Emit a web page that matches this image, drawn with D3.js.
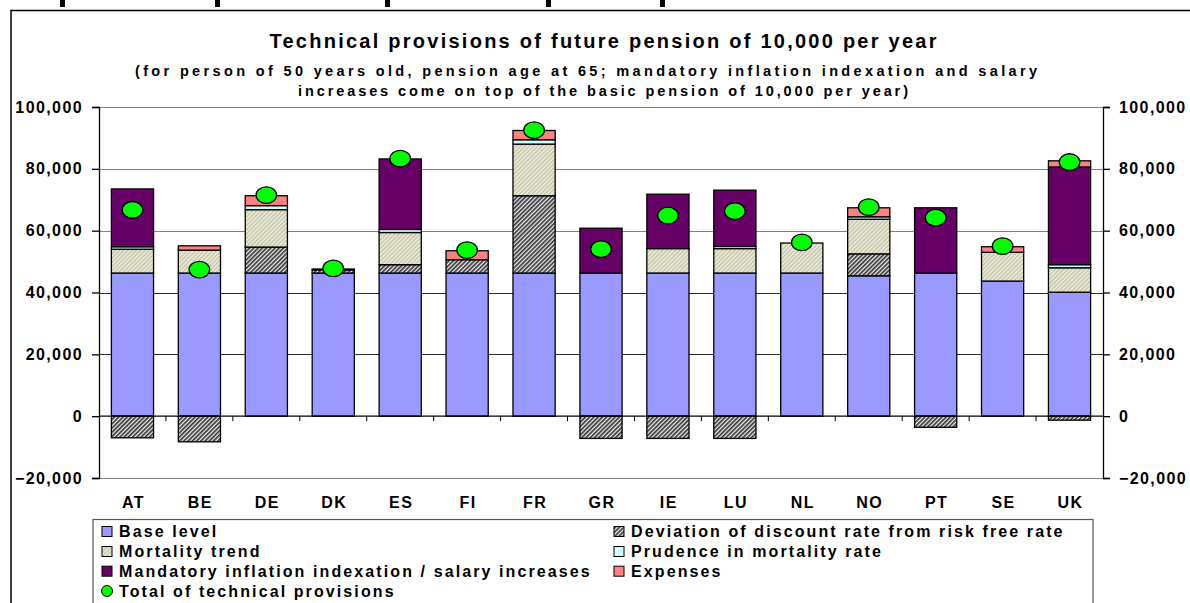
<!DOCTYPE html>
<html>
<head>
<meta charset="utf-8">
<script src="https://cdn.jsdelivr.net/npm/d3@7"></script>
<style>
  body { margin: 0; background: #fff; }
  svg { display: block; font-family: "Liberation Sans", Arial, sans-serif; font-weight: bold; }
</style>
</head>
<body>
<svg id="chart" width="1190" height="603"></svg>
<script>
// Chart data
var countries = ["AT", "BE", "DE", "DK", "ES", "FI", "FR", "GR", "IE", "LU", "NL", "NO", "PT", "SE", "UK"];
var baseLevel  = [46300, 46300, 46300, 46300, 46300, 46300, 46300, 46300, 46300, 46300, 46300, 45400, 46300, 43700, 40100];
var deviation  = [-7000, -8300, 8400, 1000, 2700, 4300, 25000, -7200, -7200, -7200, 0, 7100, -3600, 0, -1300];
var mortality  = [7700, 7400, 12100, 0, 10400, 0, 16700, 0, 7900, 7900, 9700, 11200, 0, 9300, 7900];
var prudence   = [800, 0, 1300, 0, 1000, 0, 1400, 0, 0, 700, 0, 800, 0, 0, 1000];
var mandatory  = [18700, 0, 0, 300, 22800, 0, 0, 14500, 17600, 18200, 0, 0, 21100, 0, 31600];
var expenses   = [0, 1400, 3200, 0, 0, 2900, 3000, 0, 0, 0, 0, 2900, 0, 1800, 2000];
var totalTP    = [66700, 47400, 71500, 47800, 83300, 53700, 92500, 54000, 64900, 66300, 56200, 67600, 64200, 55000, 82200];
var yTicks = [-20000, 0, 20000, 40000, 60000, 80000, 100000];

var seriesKeys = ["base", "deviation", "mortality", "prudence", "mandatory", "expenses"];
var seriesNames = {
    base: "Base level",
    deviation: "Deviation of discount rate from risk free rate",
    mortality: "Mortality trend",
    prudence: "Prudence in mortality rate",
    mandatory: "Mandatory inflation indexation / salary increases",
    expenses: "Expenses"
};
var seriesFill = {
    base: "#9999FF",
    deviation: "url(#hatchDark)",
    mortality: "url(#hatchLight)",
    prudence: "#CCFFFF",
    mandatory: "#660066",
    expenses: "#FF8080"
};

// Build rows for d3.stack
var rows = countries.map(function(c, i) {
    return {
        country: c,
        base: baseLevel[i],
        deviation: deviation[i],
        mortality: mortality[i],
        prudence: prudence[i],
        mandatory: mandatory[i],
        expenses: expenses[i],
        total: totalTP[i]
    };
});

var svg = d3.select("#chart");

// Patterns for hatched series
var defs = svg.append("defs");
var pDark = defs.append("pattern").attr("id", "hatchDark")
    .attr("patternUnits", "userSpaceOnUse").attr("width", 3).attr("height", 3)
    .attr("patternTransform", "rotate(45)");
pDark.append("rect").attr("width", 3).attr("height", 3).attr("fill", "#eeeeee");
pDark.append("rect").attr("width", 1.7).attr("height", 3).attr("fill", "#383838");

var pLight = defs.append("pattern").attr("id", "hatchLight")
    .attr("patternUnits", "userSpaceOnUse").attr("width", 3).attr("height", 3)
    .attr("patternTransform", "rotate(45)");
pLight.append("rect").attr("width", 3).attr("height", 3).attr("fill", "#EAEAD8");
pLight.append("rect").attr("width", 1.2).attr("height", 3).attr("fill", "#C0C0A4");

// Cropped heading from the slide above (only the descenders show)
svg.append("g").selectAll("rect")
    .data([60, 215, 385, 546, 660])
    .enter().append("rect")
    .attr("x", d => d).attr("y", 0)
    .attr("width", 5).attr("height", 7)
    .attr("fill", "#000");

// Outer chart frame
svg.append("path")
    .attr("d", "M11,603 L11,10.5 L1190,10.5")
    .attr("fill", "none").attr("stroke", "#000").attr("stroke-width", 1.5);

// Titles
svg.append("text").attr("x", 603).attr("y", 47.5).attr("text-anchor", "middle")
    .attr("font-size", 20).attr("textLength", 667).attr("lengthAdjust", "spacing")
    .text("Technical provisions of future pension of 10,000 per year");
svg.append("text").attr("x", 586).attr("y", 76).attr("text-anchor", "middle")
    .attr("font-size", 14.5).attr("textLength", 902).attr("lengthAdjust", "spacing")
    .text("(for person of 50 years old, pension age at 65; mandatory inflation indexation and salary");
svg.append("text").attr("x", 603).attr("y", 96).attr("text-anchor", "middle")
    .attr("font-size", 14.5).attr("textLength", 610).attr("lengthAdjust", "spacing")
    .text("increases come on top of the basic pension of 10,000 per year)");

// Scales
var x = d3.scaleBand().domain(countries).range([99, 1103]).paddingInner(0.37).paddingOuter(0.185);
var y = d3.scaleLinear().domain([-20000, 100000]).range([478, 107]);

// Gridlines (lower ones come out darker in the original)
svg.append("g").selectAll("line")
    .data(yTicks.filter(t => t !== 0))
    .enter().append("line")
    .attr("x1", 99).attr("x2", 1103)
    .attr("y1", d => Math.round(y(d)) + 0.5).attr("y2", d => Math.round(y(d)) + 0.5)
    .attr("stroke", d => (d === 20000 || d === 40000) ? "#2a2a2a" : "#808080")
    .attr("stroke-width", 1);

// Stacked bars
var stack = d3.stack().keys(seriesKeys).offset(d3.stackOffsetDiverging);
var layers = stack(rows);

svg.append("g").selectAll("g")
    .data(layers)
    .enter().append("g")
    .attr("fill", d => seriesFill[d.key])
    .selectAll("rect")
    .data(d => d.filter(s => s[1] !== s[0]))
    .enter().append("rect")
    .attr("x", d => x(d.data.country))
    .attr("width", x.bandwidth())
    .attr("y", d => y(Math.max(d[0], d[1])))
    .attr("height", d => Math.abs(y(d[0]) - y(d[1])))
    .attr("stroke", "#000").attr("stroke-width", 1.3);

// Zero line with category ticks
svg.append("line").attr("x1", 99).attr("x2", 1103)
    .attr("y1", y(0)).attr("y2", y(0)).attr("stroke", "#000").attr("stroke-width", 1.3);
svg.append("g").selectAll("line")
    .data(countries.slice(1))
    .enter().append("line")
    .attr("x1", d => x(d) - x.step() * x.paddingInner() / 2)
    .attr("x2", d => x(d) - x.step() * x.paddingInner() / 2)
    .attr("y1", y(0)).attr("y2", y(0) + 5)
    .attr("stroke", "#000").attr("stroke-width", 1);

// Category labels
svg.append("g").selectAll("text")
    .data(countries)
    .enter().append("text")
    .attr("x", d => x(d) + x.bandwidth() / 2 + 1)
    .attr("y", 508)
    .attr("text-anchor", "middle")
    .attr("font-size", 16).attr("letter-spacing", 1.5)
    .text(d => d);

// Left and right axes
var fmt = d3.format(",");
var yLeft = d3.axisLeft(y).tickValues(yTicks).tickSize(7).tickPadding(9).tickFormat(fmt);
var yRight = d3.axisRight(y).tickValues(yTicks).tickSize(7).tickPadding(9).tickFormat(fmt);

function styleAxis(g) {
    g.selectAll("text").attr("font-size", 16).attr("font-weight", "bold")
        .attr("font-family", "Liberation Sans, Arial, sans-serif").attr("letter-spacing", 1.4).attr("fill", "#000");
    g.selectAll("line,path").attr("stroke", "#000").attr("stroke-width", 1.3);
}
svg.append("g").attr("transform", "translate(99,0)").call(yLeft).call(styleAxis);
svg.append("g").attr("transform", "translate(1103,0)").call(yRight).call(styleAxis);

// Total markers
svg.append("g").selectAll("ellipse")
    .data(rows)
    .enter().append("ellipse")
    .attr("cx", d => x(d.country) + x.bandwidth() / 2)
    .attr("cy", d => y(d.total))
    .attr("rx", 10.3).attr("ry", 8.3)
    .attr("fill", "#00FF00").attr("stroke", "#000").attr("stroke-width", 1.3);

// Legend
var legend = svg.append("g");
legend.append("rect").attr("x", 93).attr("y", 519.5).attr("width", 1000).attr("height", 100)
    .attr("fill", "#fff").attr("stroke", "#555").attr("stroke-width", 1.2);

var legendItems = [
    { key: "base", col: 0, row: 0 },
    { key: "deviation", col: 1, row: 0 },
    { key: "mortality", col: 0, row: 1 },
    { key: "prudence", col: 1, row: 1 },
    { key: "mandatory", col: 0, row: 2 },
    { key: "expenses", col: 1, row: 2 }
];
var colX = [102, 614];
var rowY = [531.5, 551.5, 571.2, 591];

legendItems.forEach(function(item) {
    legend.append("rect")
        .attr("x", colX[item.col]).attr("y", rowY[item.row] - 5)
        .attr("width", 10).attr("height", 10)
        .attr("fill", seriesFill[item.key]).attr("stroke", "#000").attr("stroke-width", 1);
    legend.append("text")
        .attr("x", colX[item.col] + 17).attr("y", rowY[item.row] + 5.5)
        .attr("font-size", 16).attr("letter-spacing", 2.1)
        .text(seriesNames[item.key]);
});
legend.append("circle").attr("cx", 107).attr("cy", rowY[3]).attr("r", 5.5)
    .attr("fill", "#00FF00").attr("stroke", "#000").attr("stroke-width", 1);
legend.append("text").attr("x", 119).attr("y", rowY[3] + 5.5)
    .attr("font-size", 16).attr("letter-spacing", 2.1)
    .text("Total of technical provisions");
</script>
</body>
</html>
